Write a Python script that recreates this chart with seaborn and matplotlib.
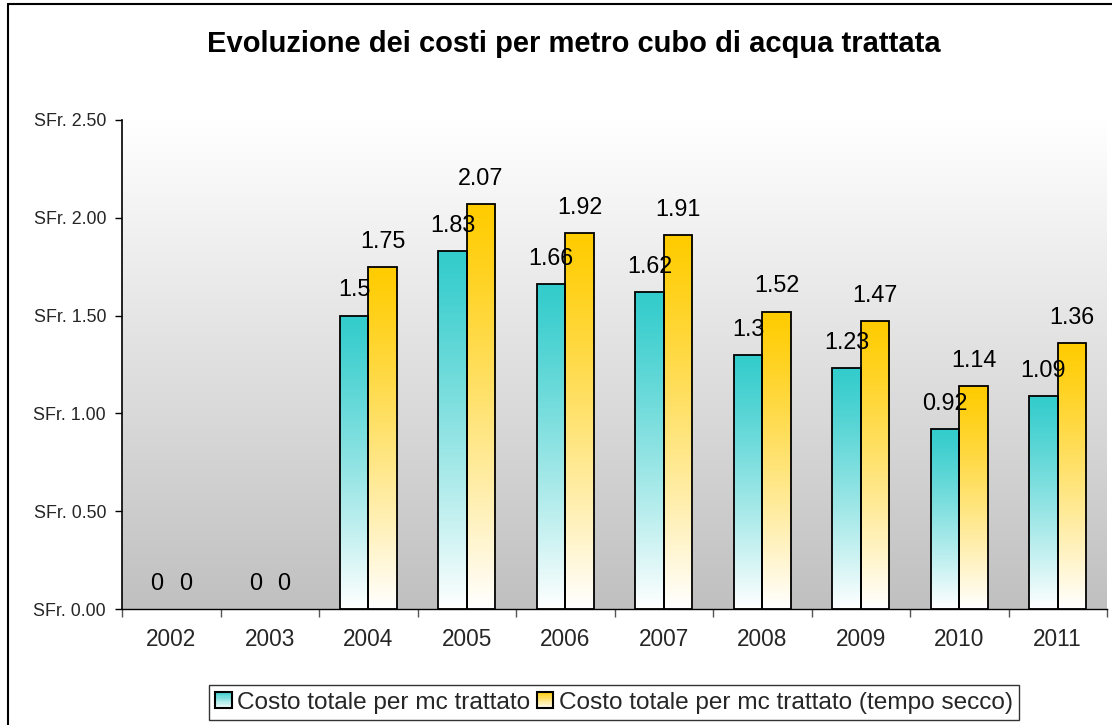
import numpy as np
import pandas as pd
import matplotlib
matplotlib.use("Agg")
import matplotlib.pyplot as plt
import matplotlib.colors as mcolors
from matplotlib.patches import Rectangle, Patch
from matplotlib.lines import Line2D
from matplotlib.legend_handler import HandlerBase
import seaborn as sns

# --- data -------------------------------------------------------------
years = ["2002", "2003", "2004", "2005", "2006", "2007", "2008", "2009", "2010", "2011"]
costo_totale = [0, 0, 1.5, 1.83, 1.66, 1.62, 1.3, 1.23, 0.92, 1.09]
costo_secco = [0, 0, 1.75, 2.07, 1.92, 1.91, 1.52, 1.47, 1.14, 1.36]
series_names = ["Costo totale per mc trattato",
                "Costo totale per mc trattato (tempo secco)"]
y_ticks = [0.0, 0.5, 1.0, 1.5, 2.0, 2.5]
title = "Evoluzione dei costi per metro cubo di acqua trattata"

teal = "#33CCCC"
gold = "#FFCC00"

df = pd.DataFrame({
    "anno": years * 2,
    "costo": costo_totale + costo_secco,
    "serie": [series_names[0]] * len(years) + [series_names[1]] * len(years),
})

sns.set_theme(style="white")
plt.rcParams["font.family"] = ["Liberation Sans", "DejaVu Sans"]

W, H = 1112, 725
fig = plt.figure(figsize=(W / 100, H / 100), dpi=100)
fig.patch.set_facecolor("white")
ax = fig.add_axes([122 / W, 1 - 609 / H, (1107 - 122) / W, (609 - 120) / H])
ax.set_facecolor("none")

sns.barplot(data=df, x="anno", y="costo", hue="serie", palette=[teal, gold],
            saturation=1, width=0.58, edgecolor="black", linewidth=1.3,
            errorbar=None, legend=False, ax=ax)


def fade(color, n=256):
    """Vertical ramp from white (bottom) to `color` (top)."""
    c = np.array(mcolors.to_rgb(color))
    t = np.linspace(0, 1, n) ** 1.15            # 0 at the top, 1 at the bottom
    rgb = 1 - (1 - t[:, None]) * (1 - c)
    return rgb[:, None, :]


# gradient fill for every bar, clipped to the bar outline
for bar in ax.patches:
    h = bar.get_height()
    if h <= 0:
        bar.set_visible(False)
        continue
    color = bar.get_facecolor()
    x0 = bar.get_x()
    w = bar.get_width()
    img = ax.imshow(fade(color), extent=[x0, x0 + w, 0, h], aspect="auto",
                    origin="upper", zorder=1.5, interpolation="bilinear")
    img.set_clip_path(bar)
    bar.set_facecolor("none")
    bar.set_zorder(2)

# plot-area background: white at the top to grey at the bottom
n = len(years)
bg = np.linspace(1.0, 0.753, 256)[:, None]
bg = np.repeat(bg[:, :, None], 3, axis=2)
ax.imshow(bg, extent=[-0.5, n - 0.5, 0, 2.5], aspect="auto", origin="upper",
          zorder=0, interpolation="bilinear")

# value labels above each bar
for cont, vals in zip(ax.containers, [costo_totale, costo_secco]):
    for bar, v in zip(cont, vals):
        ax.annotate(f"{v:g}", (bar.get_x() + bar.get_width() / 2, v),
                    xytext=(0, 18.5), textcoords="offset points",
                    ha="center", va="center", fontsize=16.8, color="black",
                    zorder=5)

ax.set_xlim(-0.5, n - 0.5)
ax.set_ylim(0, 2.5)
ax.set_xlabel("")
ax.set_ylabel("")

ax.set_yticks(y_ticks)
ax.set_yticklabels([f"SFr. {t:.2f}" for t in y_ticks], fontsize=12.9)
ax.tick_params(axis="y", which="major", left=True, length=5, width=1,
               color="black", pad=6.5)

ax.set_xticks(range(n))
ax.set_xticklabels(years, fontsize=16.3)
ax.set_xticks(np.arange(-0.5, n, 1), minor=True)
ax.tick_params(axis="x", which="major", bottom=False, length=0, pad=14)
ax.tick_params(axis="x", which="minor", bottom=True, length=6, width=1,
               color="#555555")

for side in ("top", "right"):
    ax.spines[side].set_visible(False)
ax.spines["left"].set_color("black")
ax.spines["left"].set_linewidth(1.2)
ax.spines["bottom"].set_color("black")
ax.spines["bottom"].set_linewidth(1.0)
ax.spines["left"].set_zorder(6)
ax.spines["bottom"].set_zorder(6)

# title
fig.text(573.5 / W, 1 - 44 / H, title, ha="center", va="center",
         fontsize=21, fontweight="bold", color="black")


class GradientSwatch(HandlerBase):
    def __init__(self, color, steps=14):
        super().__init__()
        self.color = np.array(mcolors.to_rgb(color))
        self.steps = steps

    def create_artists(self, legend, orig_handle, xdescent, ydescent,
                       width, height, fontsize, trans):
        arts = []
        for i in range(self.steps):
            frac = (i + 0.5) / self.steps
            c = 1 - frac * (1 - self.color)
            arts.append(Rectangle((-xdescent, -ydescent + i * height / self.steps),
                                  width, height / self.steps, facecolor=c,
                                  edgecolor="none", transform=trans))
        arts.append(Rectangle((-xdescent, -ydescent), width, height,
                              facecolor="none", edgecolor="black", lw=1.5,
                              transform=trans))
        return arts


h1 = Patch(facecolor=teal)
h2 = Patch(facecolor=gold)
leg = fig.legend([h1, h2], series_names, loc="center",
                 bbox_to_anchor=(614 / W, 1 - 702.5 / H), ncol=2,
                 fontsize=17.6, frameon=True, fancybox=False, shadow=False,
                 handlelength=0.68, handleheight=0.68, handletextpad=0.22,
                 columnspacing=0.25, borderpad=0.26, borderaxespad=0,
                 handler_map={h1: GradientSwatch(teal), h2: GradientSwatch(gold)})
leg.get_frame().set_edgecolor("black")
leg.get_frame().set_linewidth(1.0)

# chart border (left and top edges fall inside the canvas)
fig.add_artist(Line2D([8 / W, 8 / W], [0, 1 - 4 / H], transform=fig.transFigure,
                      color="black", lw=1.5))
fig.add_artist(Line2D([8 / W, 1], [1 - 4 / H, 1 - 4 / H], transform=fig.transFigure,
                      color="black", lw=1.5))

fig.savefig("out.png", dpi=100)
